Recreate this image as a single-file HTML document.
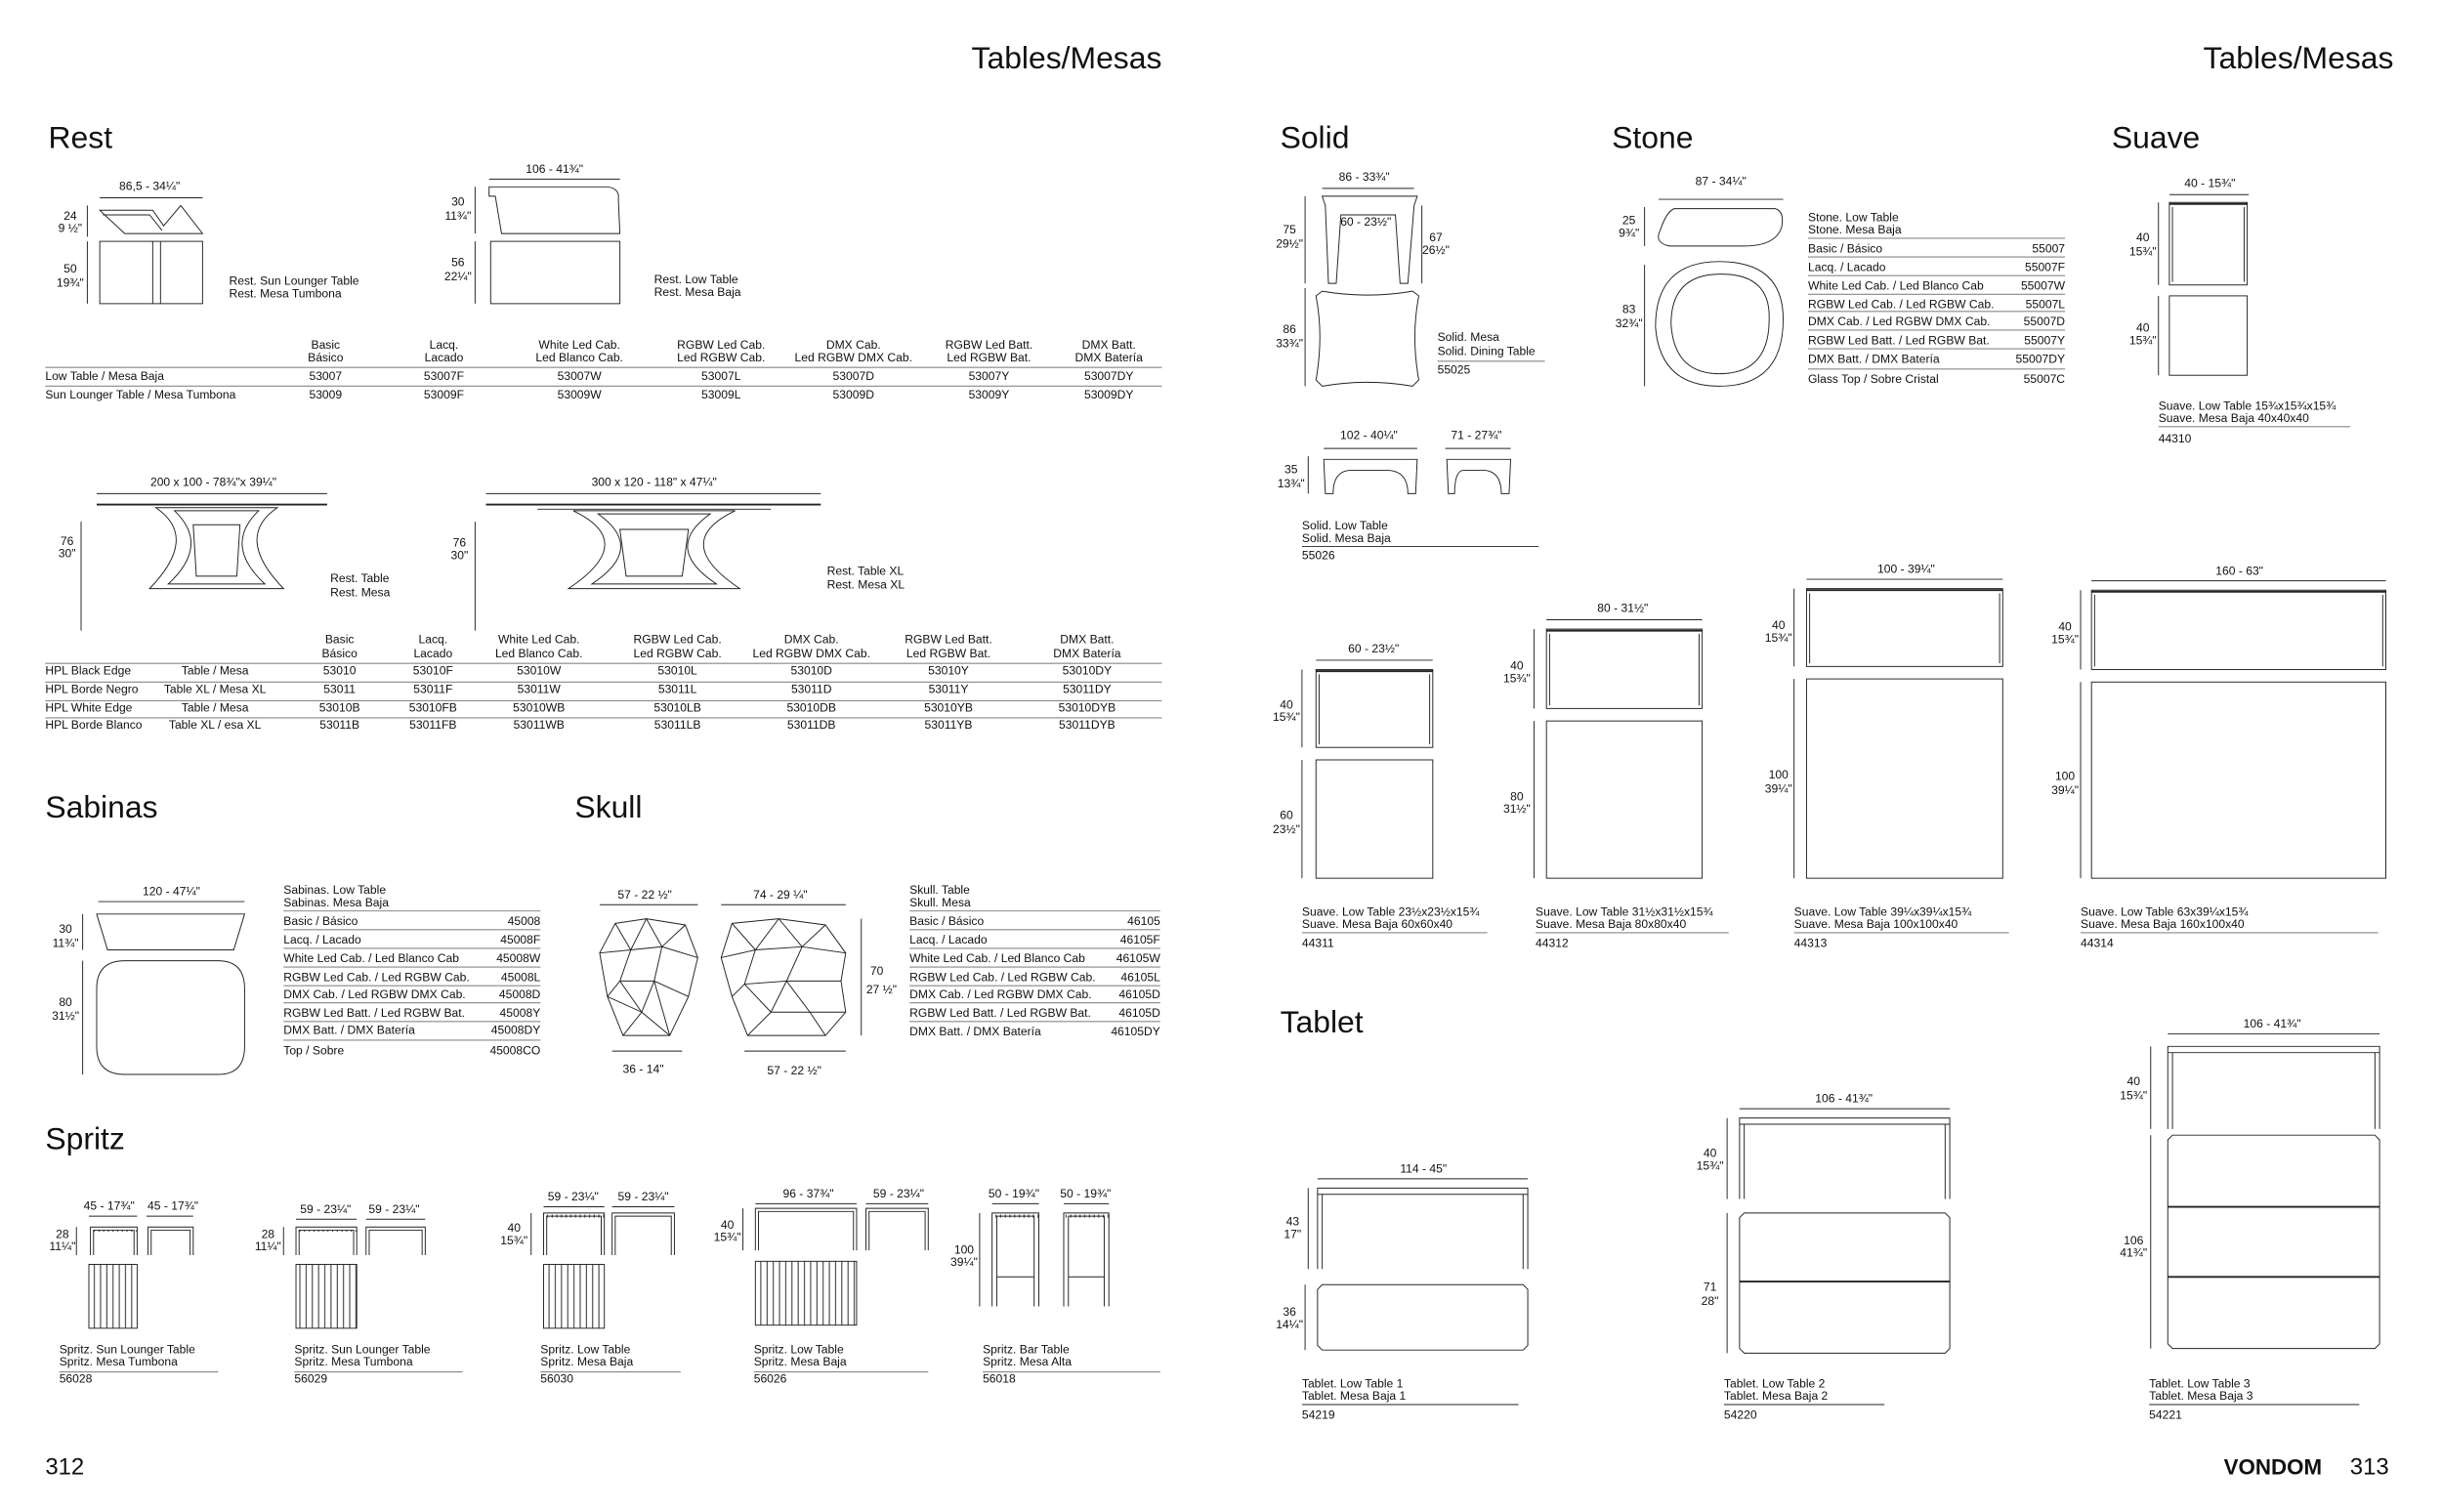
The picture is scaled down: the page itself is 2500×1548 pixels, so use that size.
<!DOCTYPE html>
<html><head><meta charset="utf-8"><style>
html,body{margin:0;padding:0;background:#fff}
svg{display:block}
text{font-family:"Liberation Sans Narrow","Liberation Sans",sans-serif;fill:#111}
.s{font-size:7.6px}
.h{font-size:20px}
.m{text-anchor:middle}
.e{text-anchor:end}
.l{stroke:#222;stroke-width:0.6;fill:none}
.t{stroke:#222;stroke-width:1.2;fill:none}
.g{stroke:#888;stroke-width:0.7;fill:none}
</style></head><body>
<svg width="2500" height="1548" viewBox="0 0 1568 971" xmlns="http://www.w3.org/2000/svg">
<rect width="1568" height="971" fill="#fff"/>
<!-- headers -->
<text class="h e" x="746" y="44">Tables/Mesas</text>
<text class="h e" x="1537" y="44">Tables/Mesas</text>
<text class="h" x="31" y="95">Rest</text>
<text class="h" x="29" y="525">Sabinas</text>
<text class="h" x="369" y="525">Skull</text>
<text class="h" x="29" y="738">Spritz</text>
<text class="h" x="822" y="95">Solid</text>
<text class="h" x="1035" y="95">Stone</text>
<text class="h" x="1356" y="95">Suave</text>
<text class="h" x="822" y="663">Tablet</text>
<text x="29" y="947" style="font-size:15px">312</text>
<text x="1428" y="947" style="font-size:14px;font-weight:bold;font-family:'Liberation Sans',sans-serif">VONDOM</text>
<text x="1509" y="947" style="font-size:15px">313</text>

<!-- REST sun lounger -->
<text class="s m" x="96" y="122">86,5 - 34¼"</text><line class="l" x1="64" y1="127" x2="130" y2="127"/>
<path class="l" d="M64,135 L98,135 L105,145 L116,132 L130,150 L80,150 Z M66,138 L96,138 L104,148"/>
<text class="s m" x="45" y="141">24</text><text class="s m" x="45" y="149">9 ½"</text><line class="l" x1="56" y1="132" x2="56" y2="152"/>
<rect class="l" x="64" y="155" width="66" height="40"/><line class="l" x1="98" y1="155" x2="98" y2="195"/><line class="l" x1="103" y1="155" x2="103" y2="195"/>
<text class="s m" x="45" y="175">50</text><text class="s m" x="45" y="184">19¾"</text><line class="l" x1="56" y1="155" x2="56" y2="195"/>
<text class="s" x="147" y="183">Rest. Sun Lounger Table</text><text class="s" x="147" y="191">Rest. Mesa Tumbona</text>
<!-- REST low -->
<text class="s m" x="356" y="111">106 - 41¾"</text><line class="l" x1="314" y1="115" x2="398" y2="115"/>
<path class="l" d="M314,120 L390,120 Q398,121 397,128 L398,150 L322,150 L318,126 L314,126 Z"/>
<text class="s m" x="294" y="132">30</text><text class="s m" x="294" y="141">11¾"</text><line class="l" x1="305" y1="120" x2="305" y2="150"/>
<rect class="l" x="315" y="155" width="83" height="40"/>
<text class="s m" x="294" y="171">56</text><text class="s m" x="294" y="180">22¼"</text><line class="l" x1="305" y1="155" x2="305" y2="195"/>
<text class="s" x="420" y="182">Rest. Low Table</text><text class="s" x="420" y="190">Rest. Mesa Baja</text>
<!-- table 1 -->
<g class="s m">
<text x="209" y="224">Basic</text><text x="209" y="232">Básico</text>
<text x="285" y="224">Lacq.</text><text x="285" y="232">Lacado</text>
<text x="372" y="224">White Led Cab.</text><text x="372" y="232">Led Blanco Cab.</text>
<text x="463" y="224">RGBW Led Cab.</text><text x="463" y="232">Led RGBW Cab.</text>
<text x="548" y="224">DMX Cab.</text><text x="548" y="232">Led RGBW DMX Cab.</text>
<text x="635" y="224">RGBW Led Batt.</text><text x="635" y="232">Led RGBW Bat.</text>
<text x="712" y="224">DMX Batt.</text><text x="712" y="232">DMX Batería</text>
<text x="209" y="244">53007</text><text x="285" y="244">53007F</text><text x="372" y="244">53007W</text><text x="463" y="244">53007L</text><text x="548" y="244">53007D</text><text x="635" y="244">53007Y</text><text x="712" y="244">53007DY</text>
<text x="209" y="256">53009</text><text x="285" y="256">53009F</text><text x="372" y="256">53009W</text><text x="463" y="256">53009L</text><text x="548" y="256">53009D</text><text x="635" y="256">53009Y</text><text x="712" y="256">53009DY</text>
</g>
<text class="s" x="29" y="244">Low Table / Mesa Baja</text><text class="s" x="29" y="256">Sun Lounger Table / Mesa Tumbona</text>
<line class="g" x1="29" y1="236" x2="746" y2="236"/><line class="g" x1="29" y1="248" x2="746" y2="248"/>
<!-- REST tables -->
<text class="s m" x="137" y="312">200 x 100 - 78¾"x 39¼"</text><line class="l" x1="62" y1="317" x2="210" y2="317"/>
<line class="t" x1="62" y1="324" x2="210" y2="324"/>
<path class="l" d="M100,326 Q128,345 96,378 L182,378 Q150,345 178,326 Z M112,328 Q135,350 108,375 L170,375 Q143,350 166,328 Z M124,337 L154,337 L152,370 L126,370 Z"/>
<text class="s m" x="43" y="350">76</text><text class="s m" x="43" y="358">30"</text><line class="l" x1="52" y1="335" x2="52" y2="405"/>
<text class="s" x="212" y="374">Rest. Table</text><text class="s" x="212" y="383">Rest. Mesa</text>
<text class="s m" x="420" y="312">300 x 120 - 118" x 47¼"</text><line class="l" x1="312" y1="317" x2="527" y2="317"/>
<line class="t" x1="312" y1="324" x2="527" y2="324"/><line class="l" x1="345" y1="327" x2="495" y2="327"/>
<path class="l" d="M368,328 Q410,348 365,378 L475,378 Q430,348 472,328 Z M384,330 Q415,352 380,375 L460,375 Q425,352 456,330 Z M398,340 L442,340 L438,370 L402,370 Z"/>
<text class="s m" x="295" y="351">76</text><text class="s m" x="295" y="359">30"</text><line class="l" x1="305" y1="335" x2="305" y2="405"/>
<text class="s" x="531" y="369">Rest. Table XL</text><text class="s" x="531" y="378">Rest. Mesa XL</text>
<!-- table 2 -->
<g class="s m">
<text x="218" y="413">Basic</text><text x="218" y="422">Básico</text>
<text x="278" y="413">Lacq.</text><text x="278" y="422">Lacado</text>
<text x="346" y="413">White Led Cab.</text><text x="346" y="422">Led Blanco Cab.</text>
<text x="435" y="413">RGBW Led Cab.</text><text x="435" y="422">Led RGBW Cab.</text>
<text x="521" y="413">DMX Cab.</text><text x="521" y="422">Led RGBW DMX Cab.</text>
<text x="609" y="413">RGBW Led Batt.</text><text x="609" y="422">Led RGBW Bat.</text>
<text x="698" y="413">DMX Batt.</text><text x="698" y="422">DMX Batería</text>
<text x="138" y="433">Table / Mesa</text><text x="218" y="433">53010</text><text x="278" y="433">53010F</text><text x="346" y="433">53010W</text><text x="435" y="433">53010L</text><text x="521" y="433">53010D</text><text x="609" y="433">53010Y</text><text x="698" y="433">53010DY</text>
<text x="138" y="445">Table XL / Mesa XL</text><text x="218" y="445">53011</text><text x="278" y="445">53011F</text><text x="346" y="445">53011W</text><text x="435" y="445">53011L</text><text x="521" y="445">53011D</text><text x="609" y="445">53011Y</text><text x="698" y="445">53011DY</text>
<text x="138" y="457">Table / Mesa</text><text x="218" y="457">53010B</text><text x="278" y="457">53010FB</text><text x="346" y="457">53010WB</text><text x="435" y="457">53010LB</text><text x="521" y="457">53010DB</text><text x="609" y="457">53010YB</text><text x="698" y="457">53010DYB</text>
<text x="138" y="468">Table XL / esa XL</text><text x="218" y="468">53011B</text><text x="278" y="468">53011FB</text><text x="346" y="468">53011WB</text><text x="435" y="468">53011LB</text><text x="521" y="468">53011DB</text><text x="609" y="468">53011YB</text><text x="698" y="468">53011DYB</text>
</g>
<text class="s" x="29" y="433">HPL Black Edge</text><text class="s" x="29" y="445">HPL Borde Negro</text><text class="s" x="29" y="457">HPL White Edge</text><text class="s" x="29" y="468">HPL Borde Blanco</text>
<g class="g"><line x1="29" y1="426" x2="746" y2="426"/><line x1="29" y1="438" x2="746" y2="438"/><line x1="29" y1="450" x2="746" y2="450"/><line x1="29" y1="461" x2="746" y2="461"/></g>

<!-- SABINAS -->
<text class="s m" x="110" y="575">120 - 47¼"</text><line class="l" x1="63" y1="579" x2="157" y2="579"/>
<path class="l" d="M62,587 L157,587 L150,610 L69,610 Z"/>
<path class="l" d="M80,617 L140,617 Q157,617 157,635 L157,672 Q157,690 140,690 L80,690 Q62,690 62,672 L62,635 Q62,617 80,617 Z"/>
<text class="s m" x="42" y="599">30</text><text class="s m" x="42" y="608">11¾"</text><line class="l" x1="53" y1="587" x2="53" y2="610"/>
<text class="s m" x="42" y="646">80</text><text class="s m" x="42" y="655">31½"</text><line class="l" x1="53" y1="617" x2="53" y2="690"/>
<g class="s"><text x="182" y="574">Sabinas. Low Table</text><text x="182" y="582">Sabinas. Mesa Baja</text>
<text x="182" y="594">Basic / Básico</text><text x="182" y="606">Lacq. / Lacado</text><text x="182" y="618">White Led Cab. / Led Blanco Cab</text><text x="182" y="630">RGBW Led Cab. / Led RGBW Cab.</text><text x="182" y="641">DMX Cab. / Led RGBW DMX Cab.</text><text x="182" y="653">RGBW Led Batt. / Led RGBW Bat.</text><text x="182" y="664">DMX Batt. / DMX Batería</text><text x="182" y="677">Top / Sobre</text></g>
<g class="s e"><text x="347" y="594">45008</text><text x="347" y="606">45008F</text><text x="347" y="618">45008W</text><text x="347" y="630">45008L</text><text x="347" y="641">45008D</text><text x="347" y="653">45008Y</text><text x="347" y="664">45008DY</text><text x="347" y="677">45008CO</text></g>
<g class="g"><line x1="182" y1="585" x2="347" y2="585"/><line x1="182" y1="597" x2="347" y2="597"/><line x1="182" y1="609" x2="347" y2="609"/><line x1="182" y1="621" x2="347" y2="621"/><line x1="182" y1="633" x2="347" y2="633"/><line x1="182" y1="644" x2="347" y2="644"/><line x1="182" y1="656" x2="347" y2="656"/><line x1="182" y1="668" x2="347" y2="668"/></g>

<!-- SKULL -->
<text class="s m" x="414" y="577">57 - 22 ½"</text><line class="l" x1="385" y1="581" x2="448" y2="581"/>
<text class="s m" x="501" y="577">74 - 29 ¼"</text><line class="l" x1="463" y1="581" x2="543" y2="581"/>
<path class="l" d="M395,593 L415,590 L440,594 L448,615 L442,640 L430,665 L400,665 L390,640 L385,612 Z M395,593 L405,610 L415,590 L425,608 L440,594 M385,612 L405,610 L425,608 L448,615 M405,610 L398,630 L390,640 M425,608 L420,630 L442,640 M398,630 L420,630 L412,650 L400,665 M420,630 L430,665 M412,650 L430,665 M398,630 L412,650 M390,640 L412,650"/>
<path class="l" d="M470,593 L500,590 L530,594 L543,612 L540,630 L543,650 L530,665 L480,665 L470,640 L463,615 Z M470,593 L485,610 L500,590 L515,608 L530,594 M463,615 L485,610 L515,608 L543,612 M485,610 L478,632 L470,640 M515,608 L505,630 L540,630 M478,632 L505,630 L495,650 L480,665 M505,630 L520,650 L530,665 M495,650 L520,650 M520,650 L543,650 M478,632 L495,650"/>
<text class="s m" x="563" y="626">70</text><text class="s m" x="566" y="638">27 ½"</text><line class="l" x1="553" y1="590" x2="553" y2="665"/>
<line class="l" x1="393" y1="675" x2="438" y2="675"/><text class="s m" x="413" y="689">36 - 14"</text>
<line class="l" x1="478" y1="675" x2="543" y2="675"/><text class="s m" x="510" y="690">57 - 22 ½"</text>
<g class="s"><text x="584" y="574">Skull. Table</text><text x="584" y="582">Skull. Mesa</text>
<text x="584" y="594">Basic / Básico</text><text x="584" y="606">Lacq. / Lacado</text><text x="584" y="618">White Led Cab. / Led Blanco Cab</text><text x="584" y="630">RGBW Led Cab. / Led RGBW Cab.</text><text x="584" y="641">DMX Cab. / Led RGBW DMX Cab.</text><text x="584" y="653">RGBW Led Batt. / Led RGBW Bat.</text><text x="584" y="665">DMX Batt. / DMX Batería</text></g>
<g class="s e"><text x="745" y="594">46105</text><text x="745" y="606">46105F</text><text x="745" y="618">46105W</text><text x="745" y="630">46105L</text><text x="745" y="641">46105D</text><text x="745" y="653">46105D</text><text x="745" y="665">46105DY</text></g>
<g class="g"><line x1="584" y1="585" x2="745" y2="585"/><line x1="584" y1="597" x2="745" y2="597"/><line x1="584" y1="609" x2="745" y2="609"/><line x1="584" y1="621" x2="745" y2="621"/><line x1="584" y1="633" x2="745" y2="633"/><line x1="584" y1="644" x2="745" y2="644"/><line x1="584" y1="656" x2="745" y2="656"/></g>

<!-- SPRITZ -->
<defs>
<pattern id="sl" width="4" height="10" patternUnits="userSpaceOnUse"><line x1="0.5" y1="0" x2="0.5" y2="10" stroke="#222" stroke-width="0.6"/></pattern>
<pattern id="st" width="3" height="10" patternUnits="userSpaceOnUse"><line x1="0.5" y1="0" x2="0.5" y2="3" stroke="#222" stroke-width="0.6"/></pattern>
</defs>
<!-- 1 -->
<text class="s m" x="70" y="777">45 - 17¾"</text><line class="l" x1="57" y1="781" x2="88" y2="781"/>
<text class="s m" x="111" y="777">45 - 17¾"</text><line class="l" x1="94" y1="781" x2="124" y2="781"/>
<path class="l" d="M58,806 L58,788 L88,788 L88,806 M60,806 L60,790 L86,790 L86,806 M95,806 L95,788 L124,788 L124,806 M97,806 L97,790 L122,790 L122,806"/>
<rect x="58" y="788" width="30" height="3" fill="url(#st)"/>
<text class="s m" x="40" y="795">28</text><text class="s m" x="40" y="803">11¼"</text><line class="l" x1="49" y1="788" x2="49" y2="806"/>
<rect x="57" y="812" width="31" height="41" fill="url(#sl)" stroke="#222" stroke-width="0.6"/>
<text class="s" x="38" y="869">Spritz. Sun Lounger Table</text><text class="s" x="38" y="877">Spritz. Mesa Tumbona</text><line class="g" x1="38" y1="881" x2="140" y2="881"/><text class="s" x="38" y="888">56028</text>
<!-- 2 -->
<text class="s m" x="209" y="779">59 - 23¼"</text><line class="l" x1="190" y1="783" x2="229" y2="783"/>
<text class="s m" x="253" y="779">59 - 23¼"</text><line class="l" x1="235" y1="783" x2="273" y2="783"/>
<path class="l" d="M190,806 L190,788 L229,788 L229,806 M192,806 L192,790 L227,790 L227,806 M235,806 L235,788 L273,788 L273,806 M237,806 L237,790 L271,790 L271,806"/>
<rect x="190" y="788" width="39" height="3" fill="url(#st)"/>
<text class="s m" x="172" y="795">28</text><text class="s m" x="172" y="803">11¼"</text><line class="l" x1="182" y1="788" x2="182" y2="806"/>
<rect x="190" y="812" width="39" height="41" fill="url(#sl)" stroke="#222" stroke-width="0.6"/>
<text class="s" x="189" y="869">Spritz. Sun Lounger Table</text><text class="s" x="189" y="877">Spritz. Mesa Tumbona</text><line class="g" x1="189" y1="881" x2="297" y2="881"/><text class="s" x="189" y="888">56029</text>
<!-- 3 -->
<text class="s m" x="368" y="771">59 - 23¼"</text><line class="l" x1="349" y1="775" x2="388" y2="775"/>
<text class="s m" x="413" y="771">59 - 23¼"</text><line class="l" x1="393" y1="775" x2="433" y2="775"/>
<path class="l" d="M349,806 L349,779 L388,779 L388,806 M351,806 L351,781 L386,781 L386,806 M393,806 L393,779 L433,779 L433,806 M395,806 L395,781 L431,781 L431,806"/>
<rect x="349" y="779" width="39" height="3" fill="url(#st)"/>
<text class="s m" x="330" y="791">40</text><text class="s m" x="330" y="799">15¾"</text><line class="l" x1="341" y1="779" x2="341" y2="806"/>
<rect x="349" y="812" width="39" height="41" fill="url(#sl)" stroke="#222" stroke-width="0.6"/>
<text class="s" x="347" y="869">Spritz. Low Table</text><text class="s" x="347" y="877">Spritz. Mesa Baja</text><line class="g" x1="347" y1="881" x2="437" y2="881"/><text class="s" x="347" y="888">56030</text>
<!-- 4 -->
<text class="s m" x="519" y="769">96 - 37¾"</text><line class="l" x1="485" y1="773" x2="550" y2="773"/>
<text class="s m" x="577" y="769">59 - 23¼"</text><line class="l" x1="556" y1="773" x2="596" y2="773"/>
<path class="l" d="M485,803 L485,776 L550,776 L550,803 M487,803 L487,778 L548,778 L548,803 M556,803 L556,776 L596,776 L596,803 M558,803 L558,778 L594,778 L594,803"/>
<rect x="485" y="776" width="65" height="3" fill="url(#st)"/>
<text class="s m" x="467" y="789">40</text><text class="s m" x="467" y="797">15¾"</text><line class="l" x1="477" y1="776" x2="477" y2="803"/>
<rect x="485" y="810" width="65" height="41" fill="url(#sl)" stroke="#222" stroke-width="0.6"/>
<text class="s" x="484" y="869">Spritz. Low Table</text><text class="s" x="484" y="877">Spritz. Mesa Baja</text><line class="g" x1="484" y1="881" x2="596" y2="881"/><text class="s" x="484" y="888">56026</text>
<!-- 5 -->
<text class="s m" x="651" y="769">50 - 19¾"</text><line class="l" x1="637" y1="773" x2="667" y2="773"/>
<text class="s m" x="697" y="769">50 - 19¾"</text><line class="l" x1="683" y1="773" x2="712" y2="773"/>
<path class="l" d="M637,839 L637,779 L667,779 L667,839 M640,839 L640,781 L664,781 L664,839 M640,820 L664,820 M683,839 L683,779 L712,779 L712,839 M686,839 L686,781 L709,781 L709,839 M686,820 L709,820"/>
<rect x="637" y="779" width="30" height="3" fill="url(#st)"/><rect x="683" y="779" width="29" height="3" fill="url(#st)"/>
<text class="s m" x="619" y="805">100</text><text class="s m" x="619" y="813">39¼"</text><line class="l" x1="629" y1="779" x2="629" y2="839"/>
<text class="s" x="631" y="869">Spritz. Bar Table</text><text class="s" x="631" y="877">Spritz. Mesa Alta</text><line class="g" x1="631" y1="881" x2="745" y2="881"/><text class="s" x="631" y="888">56018</text>

<!-- SOLID -->
<text class="s m" x="876" y="116">86 - 33¾"</text><line class="l" x1="849" y1="121" x2="908" y2="121"/>
<path class="l" d="M849,126 L910,126 L908,132 L904,182 L899,182 L896,138 L861,138 L858,182 L853,182 L851,132 Z"/>
<text class="s m" x="877" y="145">60 - 23½"</text>
<text class="s m" x="828" y="150">75</text><text class="s m" x="828" y="159">29½"</text><line class="l" x1="838" y1="126" x2="838" y2="182"/>
<text class="s m" x="922" y="155">67</text><text class="s m" x="922" y="163">26½"</text><line class="l" x1="913" y1="132" x2="913" y2="182"/>
<path class="l" d="M849,187 Q878,192 907,187 L911,190 Q906,216 911,244 L907,248 Q878,243 849,248 L845,244 Q850,216 845,190 Z"/>
<text class="s m" x="828" y="214">86</text><text class="s m" x="828" y="223">33¾"</text><line class="l" x1="838" y1="185" x2="838" y2="248"/>
<text class="s" x="923" y="219">Solid. Mesa</text><text class="s" x="923" y="228">Solid. Dining Table</text><line class="g" x1="923" y1="232" x2="992" y2="232"/><text class="s" x="923" y="240">55025</text>
<text class="s m" x="879" y="282">102 - 40¼"</text><line class="l" x1="850" y1="288" x2="910" y2="288"/>
<text class="s m" x="948" y="282">71 - 27¾"</text><line class="l" x1="928" y1="288" x2="970" y2="288"/>
<path class="l" d="M850,295 L910,295 L909,317 L904,317 Q904,302 890,302 L868,302 Q856,302 856,317 L851,317 Z M929,295 L970,295 L969,317 L964,317 Q964,302 952,302 L940,302 Q934,302 934,317 L930,317 Z"/>
<text class="s m" x="829" y="304">35</text><text class="s m" x="829" y="313">13¾"</text><line class="l" x1="840" y1="293" x2="840" y2="317"/>
<text class="s" x="836" y="340">Solid. Low Table</text><text class="s" x="836" y="348">Solid. Mesa Baja</text><line class="l" x1="836" y1="351" x2="988" y2="351"/><text class="s" x="836" y="359">55026</text>

<!-- STONE -->
<text class="s m" x="1105" y="119">87 - 34¼"</text><line class="l" x1="1065" y1="128" x2="1145" y2="128"/>
<path class="l" d="M1075,134 L1140,134 Q1146,136 1144,146 Q1140,158 1120,158 L1072,158 Q1062,156 1066,148 Q1070,136 1075,134 Z"/>
<text class="s m" x="1046" y="144">25</text><text class="s m" x="1046" y="152">9¾"</text><line class="l" x1="1056" y1="133" x2="1056" y2="158"/>
<path class="l" d="M1104,168 Q1145,168 1145,205 Q1145,248 1104,248 Q1066,248 1063,210 Q1063,168 1104,168 Z M1105,176 Q1137,176 1136,205 Q1136,240 1104,240 Q1075,240 1073,208 Q1073,176 1105,176 Z"/>
<text class="s m" x="1046" y="201">83</text><text class="s m" x="1046" y="210">32¾"</text><line class="l" x1="1056" y1="170" x2="1056" y2="248"/>
<g class="s"><text x="1161" y="142">Stone. Low Table</text><text x="1161" y="150">Stone. Mesa Baja</text>
<text x="1161" y="162">Basic / Básico</text><text x="1161" y="174">Lacq. / Lacado</text><text x="1161" y="186">White Led Cab. / Led Blanco Cab</text><text x="1161" y="198">RGBW Led Cab. / Led RGBW Cab.</text><text x="1161" y="209">DMX Cab. / Led RGBW DMX Cab.</text><text x="1161" y="221">RGBW Led Batt. / Led RGBW Bat.</text><text x="1161" y="233">DMX Batt. / DMX Batería</text><text x="1161" y="246">Glass Top / Sobre Cristal</text></g>
<g class="s e"><text x="1326" y="162">55007</text><text x="1326" y="174">55007F</text><text x="1326" y="186">55007W</text><text x="1326" y="198">55007L</text><text x="1326" y="209">55007D</text><text x="1326" y="221">55007Y</text><text x="1326" y="233">55007DY</text><text x="1326" y="246">55007C</text></g>
<g class="g"><line x1="1161" y1="153" x2="1326" y2="153"/><line x1="1161" y1="165" x2="1326" y2="165"/><line x1="1161" y1="177" x2="1326" y2="177"/><line x1="1161" y1="189" x2="1326" y2="189"/><line x1="1161" y1="200" x2="1326" y2="200"/><line x1="1161" y1="212" x2="1326" y2="212"/><line x1="1161" y1="224" x2="1326" y2="224"/><line x1="1161" y1="237" x2="1326" y2="237"/></g>

<!-- SUAVE -->
<text class="s m" x="1419" y="120">40 - 15¾"</text><line class="l" x1="1393" y1="125" x2="1444" y2="125"/>
<rect class="l" x="1393" y="130" width="50" height="53"/><line class="t" x1="1393" y1="131" x2="1443" y2="131"/><line class="l" x1="1395" y1="133" x2="1395" y2="181"/><line class="l" x1="1441" y1="133" x2="1441" y2="181"/>
<rect class="l" x="1393" y="190" width="50" height="51"/>
<text class="s m" x="1376" y="155">40</text><text class="s m" x="1376" y="164">15¾"</text><line class="l" x1="1386" y1="130" x2="1386" y2="183"/>
<text class="s m" x="1376" y="213">40</text><text class="s m" x="1376" y="221">15¾"</text><line class="l" x1="1386" y1="190" x2="1386" y2="241"/>
<text class="s" x="1386" y="263">Suave. Low Table 15¾x15¾x15¾</text><text class="s" x="1386" y="271">Suave. Mesa Baja 40x40x40</text><line class="g" x1="1386" y1="274" x2="1509" y2="274"/><text class="s" x="1386" y="284">44310</text>

<!-- suave row -->
<text class="s m" x="882" y="419">60 - 23½"</text><line class="l" x1="845" y1="424" x2="920" y2="424"/>
<rect class="l" x="845" y="430" width="75" height="50"/><line class="t" x1="845" y1="431" x2="920" y2="431"/><line class="l" x1="847" y1="433" x2="847" y2="478"/><line class="l" x1="918" y1="433" x2="918" y2="478"/>
<rect class="l" x="845" y="488" width="75" height="76"/>
<text class="s m" x="826" y="455">40</text><text class="s m" x="826" y="463">15¾"</text><line class="l" x1="836" y1="430" x2="836" y2="480"/>
<text class="s m" x="826" y="526">60</text><text class="s m" x="826" y="535">23½"</text><line class="l" x1="836" y1="488" x2="836" y2="564"/>
<text class="s" x="836" y="588">Suave. Low Table 23½x23½x15¾</text><text class="s" x="836" y="596">Suave. Mesa Baja 60x60x40</text><line class="g" x1="836" y1="599" x2="955" y2="599"/><text class="s" x="836" y="608">44311</text>

<text class="s m" x="1042" y="393">80 - 31½"</text><line class="l" x1="993" y1="398" x2="1093" y2="398"/>
<rect class="l" x="993" y="404" width="100" height="51"/><line class="t" x1="993" y1="405" x2="1093" y2="405"/><line class="l" x1="995" y1="407" x2="995" y2="453"/><line class="l" x1="1091" y1="407" x2="1091" y2="453"/>
<rect class="l" x="993" y="463" width="100" height="101"/>
<text class="s m" x="974" y="430">40</text><text class="s m" x="974" y="438">15¾"</text><line class="l" x1="985" y1="404" x2="985" y2="455"/>
<text class="s m" x="974" y="514">80</text><text class="s m" x="974" y="522">31½"</text><line class="l" x1="985" y1="463" x2="985" y2="564"/>
<text class="s" x="986" y="588">Suave. Low Table 31½x31½x15¾</text><text class="s" x="986" y="596">Suave. Mesa Baja 80x80x40</text><line class="g" x1="986" y1="599" x2="1110" y2="599"/><text class="s" x="986" y="608">44312</text>

<text class="s m" x="1224" y="368">100 - 39¼"</text><line class="l" x1="1160" y1="372" x2="1286" y2="372"/>
<rect class="l" x="1160" y="378" width="126" height="50"/><line class="t" x1="1160" y1="379" x2="1286" y2="379"/><line class="l" x1="1162" y1="381" x2="1162" y2="426"/><line class="l" x1="1284" y1="381" x2="1284" y2="426"/>
<rect class="l" x="1160" y="436" width="126" height="128"/>
<text class="s m" x="1142" y="404">40</text><text class="s m" x="1142" y="412">15¾"</text><line class="l" x1="1152" y1="378" x2="1152" y2="428"/>
<text class="s m" x="1142" y="500">100</text><text class="s m" x="1142" y="509">39¼"</text><line class="l" x1="1152" y1="436" x2="1152" y2="564"/>
<text class="s" x="1152" y="588">Suave. Low Table 39¼x39¼x15¾</text><text class="s" x="1152" y="596">Suave. Mesa Baja 100x100x40</text><line class="g" x1="1152" y1="599" x2="1290" y2="599"/><text class="s" x="1152" y="608">44313</text>

<text class="s m" x="1438" y="369">160 - 63"</text><line class="l" x1="1343" y1="373" x2="1532" y2="373"/>
<rect class="l" x="1343" y="379" width="189" height="51"/><line class="t" x1="1343" y1="380" x2="1532" y2="380"/><line class="l" x1="1345" y1="382" x2="1345" y2="428"/><line class="l" x1="1530" y1="382" x2="1530" y2="428"/>
<rect class="l" x="1343" y="438" width="189" height="126"/>
<text class="s m" x="1326" y="405">40</text><text class="s m" x="1326" y="413">15¾"</text><line class="l" x1="1336" y1="379" x2="1336" y2="430"/>
<text class="s m" x="1326" y="501">100</text><text class="s m" x="1326" y="510">39¼"</text><line class="l" x1="1336" y1="438" x2="1336" y2="564"/>
<text class="s" x="1336" y="588">Suave. Low Table 63x39¼x15¾</text><text class="s" x="1336" y="596">Suave. Mesa Baja 160x100x40</text><line class="g" x1="1336" y1="599" x2="1527" y2="599"/><text class="s" x="1336" y="608">44314</text>

<!-- TABLET -->
<text class="s m" x="914" y="753">114 - 45"</text><line class="l" x1="846" y1="757" x2="981" y2="757"/>
<path class="l" d="M846,815 L846,763 L981,763 L981,815 M849,815 L849,767 L978,767 L978,815 M846,767 L981,767"/>
<path class="l" d="M849,825 L978,825 L981,828 L981,864 L978,867 L849,867 L846,864 L846,828 Z"/>
<text class="s m" x="830" y="787">43</text><text class="s m" x="830" y="795">17"</text><line class="l" x1="840" y1="763" x2="840" y2="815"/>
<text class="s m" x="828" y="845">36</text><text class="s m" x="828" y="853">14¼"</text><line class="l" x1="838" y1="825" x2="838" y2="867"/>
<text class="s" x="836" y="891">Tablet. Low Table 1</text><text class="s" x="836" y="899">Tablet. Mesa Baja 1</text><line class="l" x1="836" y1="902" x2="975" y2="902"/><text class="s" x="836" y="911">54219</text>

<text class="s m" x="1184" y="708">106 - 41¾"</text><line class="l" x1="1117" y1="712" x2="1252" y2="712"/>
<path class="l" d="M1117,770 L1117,718 L1252,718 L1252,770 M1120,770 L1120,722 L1249,722 L1249,770 M1117,722 L1252,722"/>
<path class="l" d="M1120,779 L1249,779 L1252,782 L1252,866 L1249,869 L1120,869 L1117,866 L1117,782 Z"/><line class="t" x1="1117" y1="823" x2="1252" y2="823"/>
<text class="s m" x="1098" y="743">40</text><text class="s m" x="1098" y="751">15¾"</text><line class="l" x1="1109" y1="718" x2="1109" y2="770"/>
<text class="s m" x="1098" y="829">71</text><text class="s m" x="1098" y="838">28"</text><line class="l" x1="1109" y1="779" x2="1109" y2="869"/>
<text class="s" x="1107" y="891">Tablet. Low Table 2</text><text class="s" x="1107" y="899">Tablet. Mesa Baja 2</text><line class="l" x1="1107" y1="902" x2="1210" y2="902"/><text class="s" x="1107" y="911">54220</text>

<text class="s m" x="1459" y="660">106 - 41¾"</text><line class="l" x1="1392" y1="664" x2="1528" y2="664"/>
<path class="l" d="M1392,725 L1392,672 L1528,672 L1528,725 M1395,725 L1395,676 L1525,676 L1525,725 M1392,676 L1528,676"/>
<path class="l" d="M1395,729 L1525,729 L1528,732 L1528,863 L1525,866 L1395,866 L1392,863 L1392,732 Z"/><line class="t" x1="1392" y1="775" x2="1528" y2="775"/><line class="t" x1="1392" y1="820" x2="1528" y2="820"/>
<text class="s m" x="1370" y="697">40</text><text class="s m" x="1370" y="706">15¾"</text><line class="l" x1="1381" y1="672" x2="1381" y2="725"/>
<text class="s m" x="1370" y="799">106</text><text class="s m" x="1370" y="807">41¾"</text><line class="l" x1="1381" y1="729" x2="1381" y2="866"/>
<text class="s" x="1380" y="891">Tablet. Low Table 3</text><text class="s" x="1380" y="899">Tablet. Mesa Baja 3</text><line class="l" x1="1380" y1="902" x2="1515" y2="902"/><text class="s" x="1380" y="911">54221</text>
</svg>
</body></html>
